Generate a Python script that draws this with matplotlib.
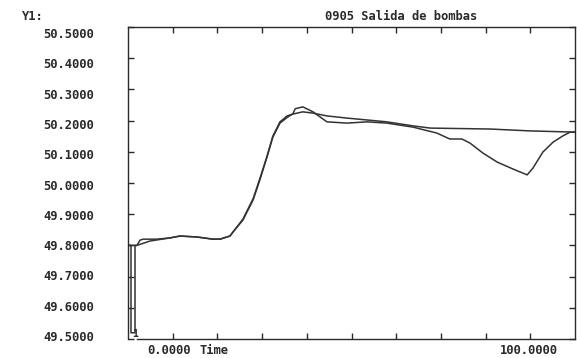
import matplotlib
matplotlib.use("Agg")
import matplotlib.pyplot as plt

# ---- data ----
time_a = [0.0, 0.67, 0.67, 1.57, 1.57, 2.0, 2.7, 3.4, 6.5, 9.4, 11.6, 15.4, 19.0, 20.6,
          22.8, 23.5, 25.7, 28.0, 29.5, 31.1, 32.4, 34.0, 35.6, 36.9, 37.4, 39.1, 41.4,
          44.5, 49.0, 53.5, 57.9, 63.8, 69.1, 72.0, 74.7, 76.5, 79.4, 82.6, 86.1, 89.3,
          90.6, 92.8, 95.1, 97.3, 98.9, 100.0]
freq_a = [49.800, 49.800, 49.520, 49.520, 49.800, 49.800, 49.817, 49.820, 49.820, 49.824,
          49.830, 49.827, 49.820, 49.820, 49.830, 49.843, 49.881, 49.946, 50.010, 50.083,
          50.147, 50.192, 50.210, 50.222, 50.238, 50.244, 50.228, 50.196, 50.192, 50.196,
          50.192, 50.179, 50.160, 50.141, 50.141, 50.128, 50.096, 50.067, 50.045, 50.026,
          50.048, 50.099, 50.131, 50.151, 50.163, 50.163]

time_b = [0.0, 2.0, 4.9, 9.4, 11.6, 15.4, 19.0, 20.6, 22.8, 23.5, 25.7, 28.0, 29.5, 31.1,
          32.4, 34.0, 35.6, 36.9, 39.1, 41.4, 44.5, 49.0, 53.5, 57.9, 63.8, 67.6, 81.0,
          89.9, 100.0]
freq_b = [49.800, 49.800, 49.814, 49.824, 49.830, 49.827, 49.820, 49.820, 49.830, 49.843,
          49.884, 49.950, 50.014, 50.086, 50.150, 50.196, 50.215, 50.221, 50.228, 50.224,
          50.215, 50.208, 50.202, 50.196, 50.183, 50.176, 50.173, 50.167, 50.163]

y_ticks = [49.5, 49.6, 49.7, 49.8, 49.9, 50.0, 50.1, 50.2, 50.3, 50.4, 50.5]
x_ticks = [10, 20, 30, 40, 50, 60, 70, 80, 90]
title = "0905 Salida de bombas"
y_name = "Y1:"
x_name = "Time"
x_start_label = "0.0000"
x_end_label = "100.0000"

# ---- drawing ----
W, H = 577, 358
fig = plt.figure(figsize=(W / 100, H / 100), dpi=100)
fig.patch.set_facecolor("white")
ax = fig.add_axes([128 / W, 1 - 339 / H, (575 - 128) / W, (339 - 27) / H])

ink = "#2a2a2a"
mono = dict(family="DejaVu Sans Mono", weight="bold", color=ink, fontsize=8.7)

ax.plot(time_a, freq_a, color="#333333", lw=1.1)
ax.plot(time_b, freq_b, color="#333333", lw=1.1)

ax.set_xlim(0, 100)
ax.set_ylim(49.5, 50.5)
for s in ax.spines.values():
    s.set_color(ink)
    s.set_linewidth(1.0)
ax.spines["bottom"].set_bounds(2, 100)

ax.set_yticks(y_ticks)
ax.set_yticklabels([])
ax.set_xticks(x_ticks)
ax.set_xticklabels([])
ax.tick_params(axis="both", direction="in", length=4, width=1.0, color=ink,
               top=True, right=True, bottom=True, left=True)

# tick-label column (the printout places labels on a slightly tighter scale)
lab = fig.add_axes([128 / W, 1 - 336 / H, 0.001, (336 - 33) / H])
lab.set_ylim(49.5, 50.5)
lab.set_yticks(y_ticks)
lab.set_yticklabels([f"{v:.4f}" for v in y_ticks], **mono)
lab.tick_params(axis="y", length=0, pad=24.5)
lab.set_xticks([])
for s in lab.spines.values():
    s.set_visible(False)
lab.patch.set_alpha(0)

ax.text(1.57, 49.5, "1", ha="center", va="bottom", family="DejaVu Sans Mono",
        weight="bold", color=ink, fontsize=7)

fig.text(22 / W, 1 - 17 / H, y_name, ha="left", va="center", **mono)
fig.text(325 / W, 1 - 17 / H, title, ha="left", va="center", **mono)
fig.text(147 / W, 1 - 350 / H, x_start_label, ha="left", va="center", **mono)
fig.text(199 / W, 1 - 350 / H, x_name, ha="left", va="center", **mono)
fig.text(500 / W, 1 - 351 / H, x_end_label, ha="left", va="center", **mono)

fig.savefig("out.png", dpi=100, facecolor="white")
